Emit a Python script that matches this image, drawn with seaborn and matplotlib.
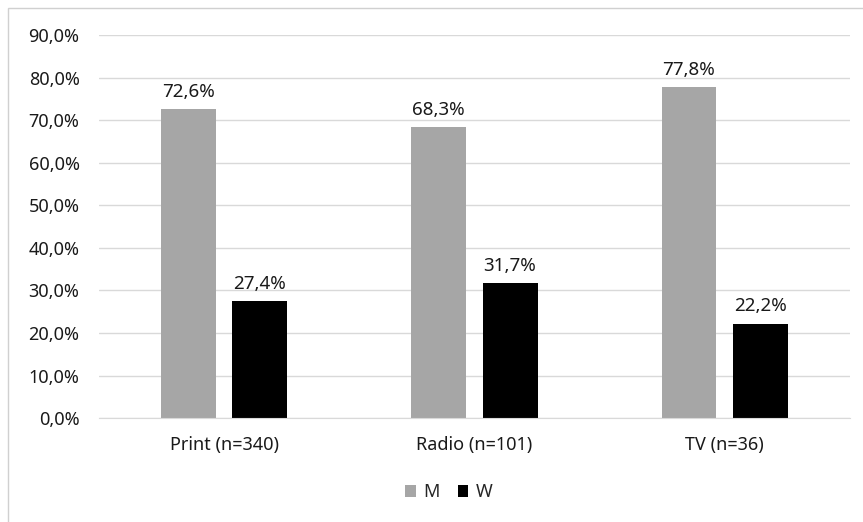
import pandas as pd
import seaborn as sns
import matplotlib.pyplot as plt
from matplotlib.patches import Rectangle

# dados
categorias = ['Print (n=340)', 'Radio (n=101)', 'TV (n=36)']
grupos = ['M', 'W']
valores_m = [72.6, 68.3, 77.8]
valores_w = [27.4, 31.7, 22.2]

df = pd.DataFrame({
    'categoria': categorias * 2,
    'grupo': ['M'] * 3 + ['W'] * 3,
    'valor': valores_m + valores_w,
})

sns.set_style('white')
plt.rcParams['font.family'] = ['Noto Sans', 'DejaVu Sans']

fig = plt.figure(figsize=(8.63, 5.22), dpi=100)
ax = fig.add_axes([0.1147, 0.199, 0.870, 0.734])

cores = {'M': '#A6A6A6', 'W': '#000000'}
sns.barplot(data=df, x='categoria', y='valor', hue='grupo', hue_order=grupos,
            palette=cores, width=0.57, gap=0.23, ax=ax, saturation=1, linewidth=0)

for container in ax.containers:
    ax.bar_label(container, labels=[f'{v:.1f}%'.replace('.', ',') for v in container.datavalues],
                 padding=6, fontsize=13.5, color='#1a1a1a')

ax.set_ylim(0, 90)
ax.set_xlim(-0.5, 2.5)
ax.set_yticks(range(0, 91, 10))
ax.set_yticklabels([f'{v:.1f}%'.replace('.', ',') for v in range(0, 91, 10)])
ax.tick_params(axis='both', length=0, labelsize=13, colors='#1a1a1a')
ax.tick_params(axis='y', pad=14)
ax.tick_params(axis='x', pad=13)
ax.yaxis.grid(True, color='#D9D9D9', linewidth=1)
ax.set_axisbelow(True)
for s in ['top', 'right', 'left']:
    ax.spines[s].set_visible(False)
ax.spines['bottom'].set_color('#D9D9D9')
ax.set_xlabel('')
ax.set_ylabel('')

ax.legend(loc='center', bbox_to_anchor=(0.52, 0.057), bbox_transform=fig.transFigure,
          ncol=2, frameon=False, fontsize=13, handlelength=0.6, handleheight=0.6,
          handletextpad=0.4, columnspacing=1.0)

fig.patches.append(Rectangle((0.009, -0.01), 1.5, 0.995, transform=fig.transFigure,
                             fill=False, edgecolor='#D0D0D0', linewidth=1))

fig.savefig('out.png', dpi=100)
